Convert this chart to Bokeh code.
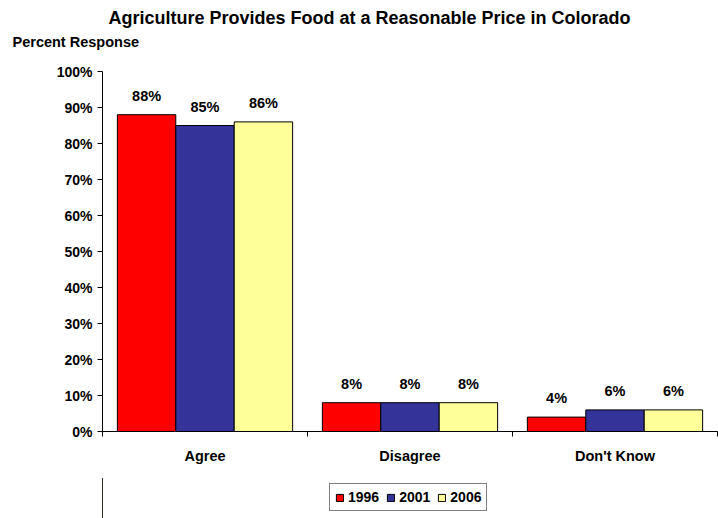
from bokeh.plotting import figure
from bokeh.layouts import column
from bokeh.models import (Range1d, FixedTicker, Title, Legend, LegendItem, ColumnDataSource)
from bokeh.core.properties import value
from bokeh.embed import file_html
from bokeh.resources import INLINE

categories = ["Agree", "Disagree", "Don't Know"]
years = ["1996", "2001", "2006"]
y1996 = [88, 8, 4]
y2001 = [85, 8, 6]
y2006 = [86, 8, 6]
series = [y1996, y2001, y2006]
colors = ["#FF0000", "#333399", "#FFFF99"]
y_ticks = list(range(0, 101, 10))

FONT = "Liberation Sans"

p = figure(width=718, height=478, output_backend="svg", toolbar_location=None,
           x_range=Range1d(0, len(categories)), y_range=Range1d(0, 100),
           min_border_left=102, min_border_right=1, min_border_top=71,
           min_border_bottom=47, title=None)
p.outline_line_color = None
p.xgrid.visible = False
p.ygrid.visible = False
p.background_fill_color = "white"
p.border_fill_color = "white"

bar_w = 0.285
offsets = [-bar_w, 0.0, bar_w]
centers = [i + 0.5 for i in range(len(categories))]

for yr, vals, col, off in zip(years, series, colors, offsets):
    src = ColumnDataSource(dict(x=[c + off for c in centers], top=vals,
                                lbl=[f"{v}%" for v in vals]))
    p.vbar(x="x", top="top", width=bar_w, bottom=0, source=src,
           fill_color=col, line_color="black", line_width=1)
    p.text(x="x", y="top", text="lbl", source=src, text_align="center",
           text_baseline="bottom", y_offset=-11, text_font=value(FONT),
           text_font_size="14.5px", text_font_style="bold", text_color="black")

# y axis
p.yaxis.ticker = FixedTicker(ticks=y_ticks)
p.yaxis.major_label_overrides = {t: f"{t}%" for t in y_ticks}
p.yaxis.minor_tick_line_color = None
p.yaxis.major_tick_in = 0
p.yaxis.major_tick_out = 5
p.yaxis.axis_line_color = "black"
p.yaxis.major_label_text_font = FONT
p.yaxis.major_label_text_font_size = "14px"
p.yaxis.major_label_text_font_style = "bold"
p.yaxis.major_label_text_color = "black"
p.yaxis.major_label_standoff = 5

# x axis
p.xaxis.ticker = FixedTicker(ticks=centers, minor_ticks=list(range(len(categories) + 1)))
p.xaxis.major_label_overrides = {c: cat for c, cat in zip(centers, categories)}
p.xaxis.major_tick_line_color = None
p.xaxis.minor_tick_in = 0
p.xaxis.minor_tick_out = 5
p.xaxis.minor_tick_line_color = "black"
p.xaxis.axis_line_color = "black"
p.xaxis.major_label_text_font = FONT
p.xaxis.major_label_text_font_size = "14.5px"
p.xaxis.major_label_text_font_style = "bold"
p.xaxis.major_label_text_color = "black"
p.xaxis.major_label_standoff = 10

# titles (first added sits closest to the plot frame)
p.add_layout(Title(text="Percent Response", align="left", offset=-90,
                   text_font=FONT, text_font_size="14.5px", text_font_style="bold",
                   text_color="black", standoff=43), "above")
p.add_layout(Title(text="Agriculture Provides Food at a Reasonable Price in Colorado",
                   align="left", offset=6, text_font=FONT, text_font_size="18px",
                   text_font_style="bold", text_color="black", standoff=-34), "above")

# legend strip below the chart (its bars lie outside its visible range)
p2 = figure(width=718, height=40, output_backend="svg", toolbar_location=None,
            x_range=Range1d(100, 101), y_range=Range1d(0, 1), x_axis_type=None,
            y_axis_type=None, min_border=0, title=None)
p2.outline_line_color = None
p2.xgrid.visible = False
p2.ygrid.visible = False
p2.border_fill_color = "white"
items = []
for yr, vals, col, off in zip(years, series, colors, offsets):
    r = p2.vbar(x=[c + off for c in centers], top=vals, width=bar_w,
                fill_color=col, line_color="black", line_width=1)
    items.append(LegendItem(label=yr, renderers=[r]))

legend = Legend(items=items, orientation="horizontal", location=(227, 7),
                border_line_color="black", border_line_width=1,
                background_fill_color="white", background_fill_alpha=1,
                label_text_font=FONT, label_text_font_size="14px",
                label_text_font_style="bold", label_text_color="black",
                glyph_width=9, glyph_height=9, label_standoff=4, spacing=7,
                padding=5, margin=0, label_height=14)
p2.add_layout(legend, "center")

layout = column(p, p2, spacing=0)
open("out.html", "w").write(file_html(layout, INLINE))
